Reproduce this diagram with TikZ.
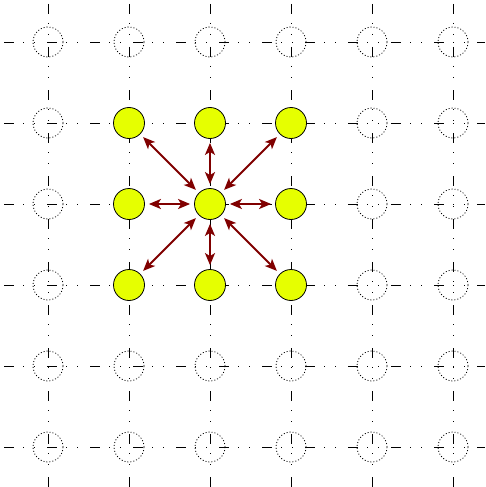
\documentclass[tikz,border=0pt]{standalone}
\usetikzlibrary{arrows.meta}
\definecolor{nodeyellow}{RGB}{230,255,0}
\definecolor{arrowred}{RGB}{128,0,0}
\begin{document}
\begin{tikzpicture}[x=1pt,y=-1pt,
  gridline/.style={line width=0.8pt,dash pattern=on 10pt off 9pt on 1pt off 10pt on 1pt off 12pt},
  emptynode/.style={circle,draw,dash pattern=on 1pt off 2pt,line width=0.8pt,minimum size=30pt,inner sep=0pt},
  fullnode/.style={circle,draw,fill=nodeyellow,line width=0.8pt,minimum size=31pt,inner sep=0pt},
  link/.style={arrowred,line width=2pt,{Stealth[length=12pt,width=10pt,inset=3pt]}-{Stealth[length=12pt,width=10pt,inset=3pt]},shorten <=4pt,shorten >=4pt}]
\useasboundingbox (0,0) rectangle (485,487);
% grid lines
\foreach \i in {0,...,5}{
  \coordinate (hl\i) at (4,{42+81*\i});
  \coordinate (hr\i) at (485,{42+81*\i});
  \coordinate (vt\i) at ({48+81*\i},4);
  \coordinate (vb\i) at ({48+81*\i},487);
  \draw[gridline] (hl\i) -- (hr\i);
  \draw[gridline] (vt\i) -- (vb\i);
}
% nodes
\foreach \i in {0,...,5}{
  \foreach \j in {0,...,5}{
    \pgfmathtruncatemacro{\isfull}{(\i>=1)&&(\i<=3)&&(\j>=1)&&(\j<=3)}
    \ifnum\isfull=1
      \node[fullnode] (n\i\j) at ({48+81*\i},{42+81*\j}) {};
    \else
      \node[emptynode] (n\i\j) at ({48+81*\i},{42+81*\j}) {};
    \fi
  }
}
% arrows
\foreach \a in {11,21,31,12,32,13,23,33}{
  \draw[link] (n22) -- (n\a);
}
\end{tikzpicture}
\end{document}
